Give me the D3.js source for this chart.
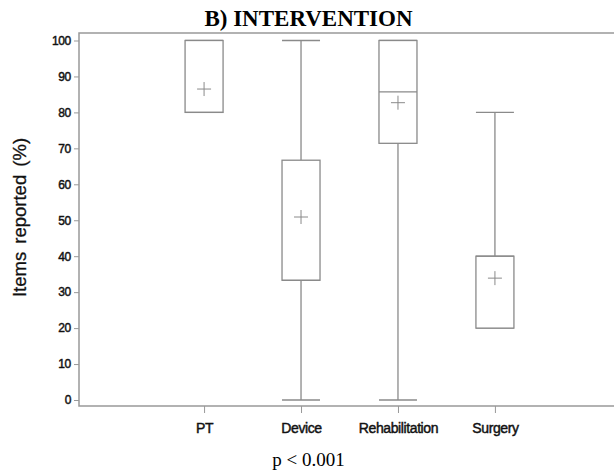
<!DOCTYPE html>
<html>
<head>
<meta charset="utf-8">
<script src="https://cdn.jsdelivr.net/npm/d3@7"></script>
<style>
  html, body { margin: 0; padding: 0; background: #fff; overflow: hidden; }
  svg { display: block; }
</style>
</head>
<body>
<div id="chart"></div>
<script>
// box plot data (percent of items reported)
const categories = ['PT', 'Device', 'Rehabilitation', 'Surgery'];
const mins    = [80, 0, 0, 20];
const q1s     = [80, 33.3, 71.4, 20];
const medians = [80, 33.3, 85.7, 40];
const q3s     = [100, 66.7, 100, 40];
const maxs    = [100, 100, 100, 80];
const means   = [86.5, 50.9, 82.7, 33.9];
const yTicks  = [0, 10, 20, 30, 40, 50, 60, 70, 80, 90, 100];

const title = 'B) INTERVENTION';
const yTitle = 'Items reported (%)';
const note = 'p < 0.001';

const width = 614, height = 475;
const frame = { left: 79, right: 620, top: 33, bottom: 406 };
const lineColor = '#8a8a8a';
const sans = '"Liberation Sans", Arial, sans-serif';
const serif = '"Liberation Serif", "Times New Roman", serif';

const svg = d3.select('#chart')
  .append('svg')
  .attr('width', width)
  .attr('height', height)
  .style('overflow', 'hidden');

// scales
const x = d3.scalePoint()
  .domain(categories)
  .range([frame.left, frame.right])
  .padding(1.29);

const y = d3.scaleLinear()
  .domain([0, 100])
  .range([400, 40.5]);

const boxW = 38;
const crossHalf = 7;

// frame: left, top and bottom only (right side is cut off in the original)
svg.append('path')
  .attr('d', `M${width},${frame.top}H${frame.left}V${frame.bottom}H${width}`)
  .style('fill', 'none')
  .style('stroke', '#999')
  .style('stroke-width', 1.5)
  .style('stroke-linecap', 'butt');

// Y axis
const yAxis = d3.axisLeft(y).tickValues(yTicks).tickSize(5).tickPadding(3);
const gy = svg.append('g')
  .attr('transform', `translate(${frame.left},0)`)
  .call(yAxis);
gy.select('.domain').remove();
gy.selectAll('.tick line').style('stroke', '#999');
gy.selectAll('.tick text')
  .style('font-family', sans)
  .style('font-size', '12px')
  .style('letter-spacing', '-0.3px')
  .style('fill', '#111')
  .style('stroke', '#111')
  .style('stroke-width', 0.45);

// X axis
const xAxis = d3.axisBottom(x).tickSize(7).tickPadding(10);
const gx = svg.append('g')
  .attr('transform', `translate(0,${frame.bottom})`)
  .call(xAxis);
gx.select('.domain').remove();
gx.selectAll('.tick line').style('stroke', '#999');
gx.selectAll('.tick text')
  .style('font-family', sans)
  .style('font-size', '14px')
  .style('letter-spacing', '-0.4px')
  .style('fill', '#111')
  .style('stroke', '#111')
  .style('stroke-width', 0.45);

// boxes
const stats = categories.map((c, i) => ({
  cat: c, min: mins[i], q1: q1s[i], med: medians[i], q3: q3s[i], max: maxs[i], mean: means[i]
}));

const g = svg.append('g')
  .style('stroke', lineColor)
  .style('stroke-width', 1.3)
  .style('fill', 'none');

const box = g.selectAll('g.box')
  .data(stats)
  .enter().append('g')
  .attr('class', 'box');

// whiskers
box.append('line')
  .attr('x1', d => x(d.cat)).attr('x2', d => x(d.cat))
  .attr('y1', d => y(d.max)).attr('y2', d => y(d.q3));
box.append('line')
  .attr('x1', d => x(d.cat)).attr('x2', d => x(d.cat))
  .attr('y1', d => y(d.q1)).attr('y2', d => y(d.min));
// caps
box.append('line')
  .attr('x1', d => x(d.cat) - boxW / 2).attr('x2', d => x(d.cat) + boxW / 2)
  .attr('y1', d => y(d.max)).attr('y2', d => y(d.max));
box.append('line')
  .attr('x1', d => x(d.cat) - boxW / 2).attr('x2', d => x(d.cat) + boxW / 2)
  .attr('y1', d => y(d.min)).attr('y2', d => y(d.min));
// box
box.append('rect')
  .attr('x', d => x(d.cat) - boxW / 2)
  .attr('y', d => y(d.q3))
  .attr('width', boxW)
  .attr('height', d => y(d.q1) - y(d.q3))
  .style('fill', '#fff');
// median
box.append('line')
  .attr('x1', d => x(d.cat) - boxW / 2).attr('x2', d => x(d.cat) + boxW / 2)
  .attr('y1', d => y(d.med)).attr('y2', d => y(d.med));
// mean cross
box.append('line')
  .attr('x1', d => x(d.cat) - crossHalf).attr('x2', d => x(d.cat) + crossHalf)
  .attr('y1', d => y(d.mean)).attr('y2', d => y(d.mean))
  .style('stroke-width', 1);
box.append('line')
  .attr('x1', d => x(d.cat)).attr('x2', d => x(d.cat))
  .attr('y1', d => y(d.mean) - crossHalf).attr('y2', d => y(d.mean) + crossHalf)
  .style('stroke-width', 1);

// title
svg.append('text')
  .attr('x', 308.5)
  .attr('y', 26)
  .attr('text-anchor', 'middle')
  .style('font-family', serif)
  .style('font-weight', 'bold')
  .style('font-size', '23px')
  .text(title);

// y axis title
svg.append('text')
  .attr('transform', `translate(26,${(frame.top + frame.bottom) / 2 - 2}) rotate(-90)`)
  .attr('text-anchor', 'middle')
  .style('font-family', sans)
  .style('font-size', '18.5px')
  .style('word-spacing', '3px')
  .style('fill', '#111')
  .style('stroke', '#111')
  .style('stroke-width', 0.3)
  .text(yTitle);

// p value note
svg.append('text')
  .attr('x', 308.5)
  .attr('y', 466)
  .attr('text-anchor', 'middle')
  .style('font-family', serif)
  .style('font-size', '19px')
  .text(note);
</script>
</body>
</html>
